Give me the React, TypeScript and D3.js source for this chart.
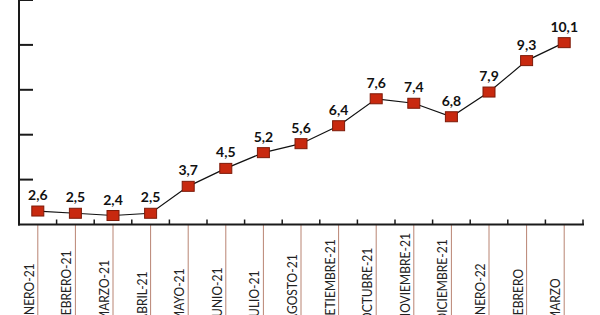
import React from "react";
import * as d3 from "d3";

const months = ["ENERO-21","FEBRERO-21","MARZO-21","ABRIL-21","MAYO-21","JUNIO-21","JULIO-21","AGOSTO-21","SETIEMBRE-21","OCTUBRE-21","NOVIEMBRE-21","DICIEMBRE-21","ENERO-22","FEBRERO","MARZO"];
const values = [2.6,2.5,2.4,2.5,3.7,4.5,5.2,5.6,6.4,7.6,7.4,6.8,7.9,9.3,10.1];
const yTicks = [4,6,8,10,12];

const W = 600, H = 315;
const left = 19, right = 583, axisY = 224.5;

export default function App() {
  const x = d3.scaleBand<string>().domain(months).range([left, right]).padding(0);
  const y = d3.scaleLinear().domain([2, 12]).range([axisY, 0]);
  const cx = (m: string) => (x(m) as number) + x.bandwidth() / 2;
  const line = d3.line<number>().x((_, i) => cx(months[i])).y(v => y(v));
  const bounds = months.map(m => (x(m) as number) + x.bandwidth());
  const labelStart = 322;
  return (
    <svg width={W} height={H} style={{ position: "absolute", left: 0, top: 0, background: "#fff" }}>
      {months.map(m => (
        <line key={"g" + m} x1={cx(m)} x2={cx(m)} y1={axisY} y2={H} stroke="#b98473" strokeWidth={1} />
      ))}
      <line x1={left} x2={left} y1={0} y2={axisY + 1} stroke="#1a1a1a" strokeWidth={2} />
      {yTicks.map(t => (
        <line key={"yt" + t} x1={left} x2={left + 14} y1={y(t)} y2={y(t)} stroke="#1a1a1a" strokeWidth={2} />
      ))}
      <line x1={left - 1} x2={right + 1} y1={axisY} y2={axisY} stroke="#1a1a1a" strokeWidth={2} />
      {bounds.map((b, i) => (
        <line key={"xt" + i} x1={b} x2={b} y1={axisY} y2={axisY - 5} stroke="#1a1a1a" strokeWidth={1.5} />
      ))}
      {months.map(m => (
        <text key={"l" + m} transform={`translate(${cx(m) - 4},${labelStart}) rotate(-90) scale(0.86,1)`}
          fontFamily="Lato, 'Open Sans', sans-serif" fontSize={14} fill="#222" textAnchor="start">{m}</text>
      ))}
      <path d={line(values) || ""} fill="none" stroke="#111" strokeWidth={1.2} />
      {values.map((v, i) => (
        <rect key={"r" + i} x={cx(months[i]) - 6} y={y(v) - 5} width={12} height={10}
          fill="#c8290f" stroke="#7d1a08" strokeWidth={1} />
      ))}
      {values.map((v, i) => (
        <text key={"v" + i} x={cx(months[i])} y={y(v) - 11} textAnchor="middle"
          fontFamily="Lato, 'Open Sans', sans-serif" fontWeight="bold" fontSize={14} fill="#111">
          {String(v).replace(".", ",")}
        </text>
      ))}
    </svg>
  );
}
